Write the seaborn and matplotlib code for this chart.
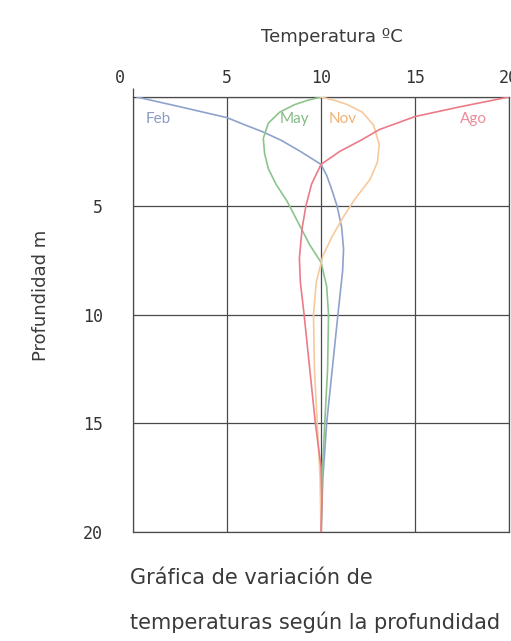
import numpy as np
import pandas as pd
import matplotlib
matplotlib.use("Agg")
import matplotlib.pyplot as plt
import matplotlib.transforms as mtransforms
import seaborn as sns

# Data (temperature in C vs depth in m)
feb_depth = [0, 0.45, 0.95, 1.3, 1.6, 2.0, 2.5, 3.1, 3.6, 4.2, 5.0, 6.0, 7.0, 8.0, 10, 12.5, 15, 17.5, 20]
feb_temp = [0.2, 2.5, 5.0, 6.0, 6.9, 7.9, 8.9, 10.0, 10.3, 10.55, 10.85, 11.1, 11.2, 11.15, 10.9, 10.6, 10.3, 10.1, 10.0]

may_depth = [0, 0.15, 0.35, 0.7, 1.2, 1.9, 2.6, 3.3, 4.0, 4.8, 5.8, 6.8, 7.6, 8.7, 10, 12.5, 15, 17.5, 20]
may_temp = [10.0, 9.3, 8.6, 7.8, 7.2, 6.93, 7.0, 7.2, 7.6, 8.2, 8.8, 9.4, 10.0, 10.3, 10.4, 10.35, 10.2, 10.05, 10.0]

nov_depth = [0, 0.15, 0.35, 0.7, 1.3, 2.2, 3.0, 3.8, 4.7, 5.5, 6.4, 7.3, 8.5, 10, 12.5, 15, 17.5, 20]
nov_temp = [10.0, 10.7, 11.4, 12.2, 12.8, 13.1, 13.0, 12.6, 11.8, 11.2, 10.6, 10.1, 9.75, 9.6, 9.65, 9.8, 9.95, 10.0]

ago_depth = [0, 0.45, 0.9, 1.5, 2.0, 2.5, 3.1, 4.0, 5.0, 6.0, 7.4, 8.5, 10, 12.5, 15, 17, 18.5, 20]
ago_temp = [20.0, 17.4, 15.0, 13.1, 12.1, 11.0, 10.0, 9.5, 9.2, 9.0, 8.85, 8.9, 9.1, 9.4, 9.7, 10.0, 10.05, 10.0]

months = ["Feb", "May", "Nov", "Ago"]
colors = {"Feb": "#8ea2cc", "May": "#8cc48c", "Nov": "#f7c99c", "Ago": "#ec7a88"}
label_colors = {"Feb": "#8a9cc4", "May": "#86bb86", "Nov": "#f2b072", "Ago": "#eb8c98"}
label_pos = {"Feb": (0.65, 1.0), "May": (7.8, 1.0), "Nov": (10.4, 1.0), "Ago": (17.4, 1.0)}

frames = []
for name, d, t in [("Feb", feb_depth, feb_temp), ("May", may_depth, may_temp),
                   ("Nov", nov_depth, nov_temp), ("Ago", ago_depth, ago_temp)]:
    frames.append(pd.DataFrame({"mes": name, "prof": d, "temp": t}))
df = pd.concat(frames, ignore_index=True)

sns.set_style("white")
plt.rcParams["font.family"] = ["DejaVu Sans"]

fig = plt.figure(figsize=(5.11, 6.41), dpi=100)
ax = fig.add_axes([0.2603, 0.170, 0.7358, 0.6787])

grid_c = "#4a4a4a"
sns.lineplot(data=df, x="temp", y="prof", hue="mes", palette=colors, hue_order=months,
             sort=False, orient="y", estimator=None, linewidth=1.2, legend=False, ax=ax, zorder=3)

ax.set_xlim(0, 20)
ax.set_ylim(20, 0)
ax.set_xticks([0, 5, 10, 15, 20])
ax.set_yticks([0, 5, 10, 15, 20])
ax.xaxis.tick_top()
ax.xaxis.set_label_position("top")
ax.grid(True, color=grid_c, linewidth=0.9)
for s in ax.spines.values():
    s.set_color(grid_c)
    s.set_linewidth(0.9)

mono = "DejaVu Sans Mono"
ax.set_xticklabels(["0", "5", "10", "15", "20"], fontfamily=mono, fontsize=12, color="#333333")
ax.set_yticklabels(["", "5", "10", "15", "20"], fontfamily=mono, fontsize=12, color="#333333")
ax.tick_params(axis="y", length=14.5, width=0.9, color=grid_c, pad=7)
ax.tick_params(axis="x", length=6.5, width=0.9, color=grid_c, pad=0.8)
for t in ax.xaxis.get_major_ticks()[1:]:
    t.tick2line.set_visible(False)
lab0 = ax.get_xticklabels()[0]
lab0.set_transform(lab0.get_transform() + mtransforms.ScaledTranslation(-13 / 100, 0, fig.dpi_scale_trans))

ax.set_xlabel("Temperatura ºC", fontsize=13, color="#3a3a3a")
ax.xaxis.set_label_coords(0.53, 1.138)
ax.xaxis.label.set_va("center")
ax.set_ylabel("Profundidad m", fontsize=13, color="#3a3a3a")
ax.yaxis.set_label_coords(-0.245, 0.545)
ax.yaxis.label.set_va("center")

for name in months:
    x, y = label_pos[name]
    ax.text(x, y, name, color=label_colors[name], fontsize=11, fontfamily="Lato",
            va="center", ha="left", zorder=4)

fig.text(0.255, 0.099, "Gráfica de variación de", fontsize=15, color="#3a3a3a", va="center")
fig.text(0.255, 0.030, "temperaturas según la profundidad", fontsize=15, color="#3a3a3a", va="center")

fig.savefig("out.png", dpi=100, facecolor="white")
